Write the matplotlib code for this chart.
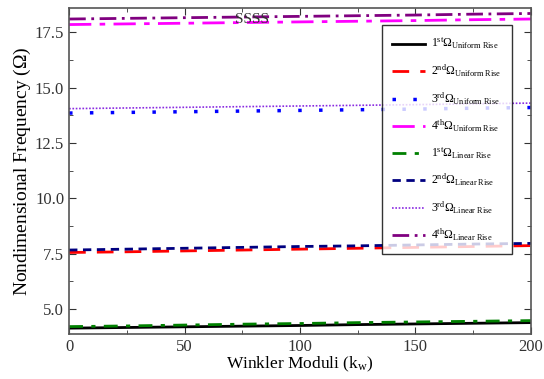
import numpy as np
import matplotlib.pyplot as plt

plt.rcParams['font.family'] = ['Liberation Serif', 'DejaVu Serif']
plt.rcParams['mathtext.fontset'] = 'custom'
plt.rcParams['mathtext.rm'] = 'Liberation Serif'
plt.rcParams['mathtext.it'] = 'Liberation Serif'

# Winkler moduli
kw = [0, 25, 50, 75, 100, 125, 150, 175, 200]

# frequencies
w1_uniform = [4.13, 4.16, 4.19, 4.22, 4.25, 4.29, 4.32, 4.35, 4.38]
w2_uniform = [7.55, 7.58, 7.62, 7.66, 7.70, 7.74, 7.78, 7.82, 7.86]
w3_uniform = [13.85, 13.88, 13.91, 13.94, 13.97, 14.00, 14.03, 14.07, 14.10]
w4_uniform = [17.85, 17.88, 17.91, 17.94, 17.97, 18.00, 18.03, 18.07, 18.10]
w1_linear = [4.20, 4.23, 4.27, 4.31, 4.34, 4.38, 4.41, 4.44, 4.47]
w2_linear = [7.66, 7.70, 7.74, 7.78, 7.82, 7.85, 7.89, 7.93, 7.96]
w3_linear = [14.05, 14.08, 14.11, 14.14, 14.17, 14.20, 14.23, 14.27, 14.30]
w4_linear = [18.10, 18.13, 18.16, 18.19, 18.22, 18.25, 18.28, 18.32, 18.35]

series = [
    (w1_uniform, '1', 'st', 'Uniform', 'black', '-', 2.0),
    (w2_uniform, '2', 'nd', 'Uniform', 'red', (0, (6, 4)), 2.0),
    (w3_uniform, '3', 'rd', 'Uniform', 'blue', (0, (1, 5)), 2.5),
    (w4_uniform, '4', 'th', 'Uniform', 'magenta', (0, (8, 3, 2, 3)), 2.0),
    (w1_linear, '1', 'st', 'Linear', 'green', (0, (5, 3, 1.5, 3)), 2.0),
    (w2_linear, '2', 'nd', 'Linear', 'navy', (0, (3, 2)), 2.0),
    (w3_linear, '3', 'rd', 'Linear', 'blueviolet', (0, (1, 1)), 1.2),
    (w4_linear, '4', 'th', 'Linear', 'purple', (0, (6, 2, 1, 2)), 2.0),
]

fig = plt.figure(figsize=(5.44, 3.79), dpi=100)
ax = fig.add_axes([0.127, 0.119, 0.849, 0.860])

for y, n, suf, kind, c, ls, lw in series:
    lab = n + r'$^{\rm ' + suf + r'}\Omega_{\rm ' + kind + r'\ Rise}$'
    ax.plot(kw, y, color=c, linestyle=ls, linewidth=lw, label=lab)

ax.set_xlim(0, 200)
ax.set_ylim(3.87, 18.6)
ax.set_xticks([0, 50, 100, 150, 200])
ax.set_xticks([25, 75, 125, 175], minor=True)
ax.set_yticks([5.0, 7.5, 10.0, 12.5, 15.0, 17.5])
ax.set_yticks([6.25, 8.75, 11.25, 13.75, 16.25], minor=True)
ax.yaxis.set_major_formatter(plt.FormatStrFormatter('%.1f'))
ax.tick_params(direction='in', which='both', top=True, right=True, labelsize=12, colors='#333333')
ax.tick_params(which='major', length=5)
ax.tick_params(which='minor', length=3)
for s in ax.spines.values():
    s.set_color('#555555')
    s.set_linewidth(1.2)

ax.set_xlabel(r'Winkler Moduli (k$_{\rm w}$)', fontsize=12.5, labelpad=0)
ax.set_ylabel(r'Nondimensional Frequency ($\Omega$)', fontsize=14, labelpad=1)
ax.text(0.36, 0.985, 'SSSS', transform=ax.transAxes, fontsize=11, ha='left', va='top', color='#333333')

leg = ax.legend(loc='upper right', bbox_to_anchor=(0.972, 0.965), fontsize=8.5, frameon=True,
                fancybox=False, edgecolor='black', handlelength=2.8, labelspacing=0.95,
                borderpad=0.9, handletextpad=0.5)
leg.get_frame().set_linewidth(1.0)

fig.savefig('out.png', dpi=100)
